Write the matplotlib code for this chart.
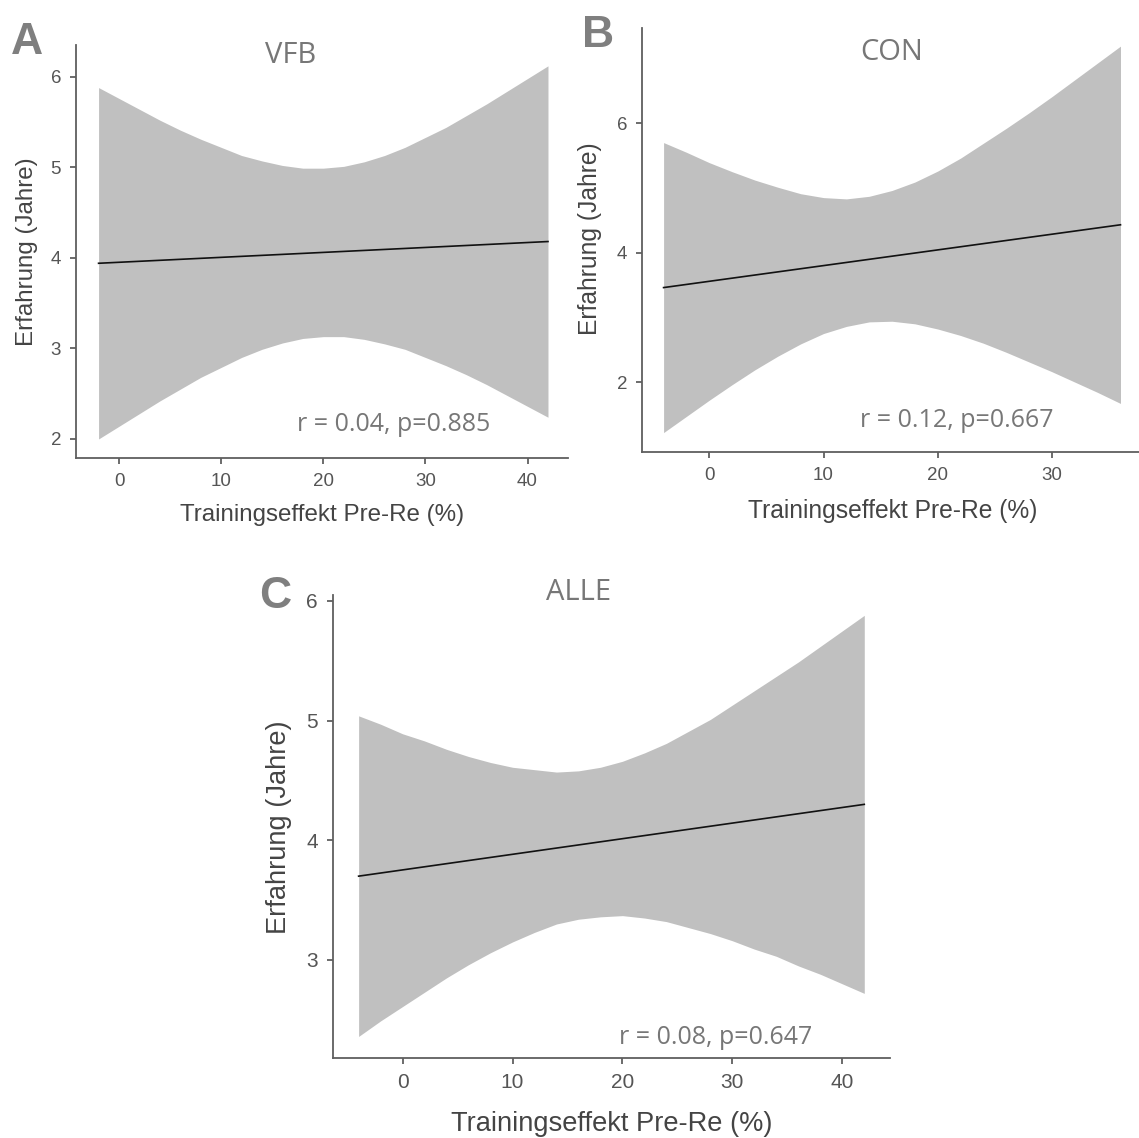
import matplotlib
matplotlib.use("Agg")
import matplotlib.pyplot as plt

W, H = 1139, 1138

# --- data ---
# Panel A: VFB (confidence band and fit line)
vfb_x = [-2, 0, 2, 4, 6, 8, 10, 12, 14, 16, 18, 20, 22, 24, 26, 28, 30, 32, 34, 36, 38, 40, 42]
vfb_upper = [5.88, 5.76, 5.64, 5.52, 5.41, 5.31, 5.22, 5.13, 5.07, 5.02, 4.99, 4.99,
             5.01, 5.06, 5.13, 5.22, 5.33, 5.44, 5.57, 5.70, 5.84, 5.98, 6.12]
vfb_lower = [2.00, 2.14, 2.28, 2.42, 2.55, 2.68, 2.79, 2.90, 2.99, 3.06, 3.11, 3.13,
             3.13, 3.10, 3.05, 2.99, 2.90, 2.81, 2.71, 2.60, 2.48, 2.36, 2.24]
vfb_fit_x = [-2, 42]
vfb_fit_y = [3.94, 4.18]

# Panel B: CON
con_x = [-4, -2, 0, 2, 4, 6, 8, 10, 12, 14, 16, 18, 20, 22, 24, 26, 28, 30, 32, 34, 36]
con_upper = [5.70, 5.55, 5.39, 5.25, 5.12, 5.01, 4.91, 4.85, 4.83, 4.87, 4.96,
             5.09, 5.26, 5.46, 5.69, 5.92, 6.16, 6.41, 6.67, 6.93, 7.19]
con_lower = [1.22, 1.47, 1.72, 1.96, 2.19, 2.40, 2.59, 2.75, 2.86, 2.93, 2.94,
             2.90, 2.82, 2.72, 2.60, 2.46, 2.31, 2.16, 2.00, 1.84, 1.67]
con_fit_x = [-4, 36]
con_fit_y = [3.46, 4.43]

# Panel C: ALLE
alle_x = [-4, -2, 0, 2, 4, 6, 8, 10, 12, 14, 16, 18, 20, 22, 24, 26, 28, 30, 32, 34, 36, 38, 40, 42]
alle_upper = [5.04, 4.97, 4.89, 4.83, 4.76, 4.70, 4.65, 4.61, 4.59, 4.57, 4.58, 4.61,
              4.66, 4.73, 4.81, 4.91, 5.01, 5.13, 5.25, 5.37, 5.49, 5.62, 5.75, 5.88]
alle_lower = [2.36, 2.49, 2.61, 2.73, 2.85, 2.96, 3.06, 3.15, 3.23, 3.30, 3.34, 3.36,
              3.37, 3.35, 3.32, 3.27, 3.22, 3.16, 3.09, 3.03, 2.95, 2.88, 2.80, 2.72]
alle_fit_x = [-4, 42]
alle_fit_y = [3.70, 4.30]

titles = ["VFB", "CON", "ALLE"]
letters = ["A", "B", "C"]
stats = ["r = 0.04, p=0.885", "r = 0.12, p=0.667", "r = 0.08, p=0.647"]
xlabel = "Trainingseffekt Pre-Re (%)"
ylabel = "Erfahrung (Jahre)"

BAND = "#c0c0c0"
GRAY_TXT = "#777777"
LETTER = "#7f7f7f"
AX_TXT = "#444444"
SPINE = "#5f5f5f"


def fx(px):
    return px / W


def fy(py):
    return 1 - py / H


fig = plt.figure(figsize=(W / 100, H / 100), dpi=100)


def panel(box, xlim, ylim, xticks, yticks, x, lo, hi, fit_x, fit_y, tick_fs):
    l, t, r, b = box
    ax = fig.add_axes([fx(l), fy(b), (r - l) / W, (b - t) / H])
    ax.fill_between(x, lo, hi, color=BAND, lw=0)
    ax.plot(fit_x, fit_y, color="#111111", lw=1.2)
    ax.set_xlim(xlim)
    ax.set_ylim(ylim)
    ax.set_xticks(xticks)
    ax.set_yticks(yticks)
    for s in ["top", "right"]:
        ax.spines[s].set_visible(False)
    for s in ["left", "bottom"]:
        ax.spines[s].set_color(SPINE)
        ax.spines[s].set_linewidth(1.3)
    ax.tick_params(direction="out", length=4.3, width=1.1, color=AX_TXT,
                   labelcolor="#555555", labelsize=tick_fs, pad=6.5)
    for lab in ax.get_xticklabels() + ax.get_yticklabels():
        lab.set_fontfamily("Liberation Sans")
    return ax


axA = panel((76, 45, 568, 458), (-4.21, 43.96), (1.79, 6.35), [0, 10, 20, 30, 40],
            [2, 3, 4, 5, 6], vfb_x, vfb_lower, vfb_upper, vfb_fit_x, vfb_fit_y, 13.5)
axB = panel((642, 28, 1139, 452), (-5.89, 37.62), (0.92, 7.47), [0, 10, 20, 30],
            [2, 4, 6], con_x, con_lower, con_upper, con_fit_x, con_fit_y, 13.5)
axC = panel((333, 595, 890, 1058), (-6.33, 44.34), (2.18, 6.05), [0, 10, 20, 30, 40],
            [3, 4, 5, 6], alle_x, alle_lower, alle_upper, alle_fit_x, alle_fit_y, 15)

# text placement in pixels: letter/title/stat baselines, label centres
txt = [
    dict(letter=(27, 54), title=(291, 63), stat=(394, 431), xl=(322, 515), yl=(27, 252), fs=17.4),
    dict(letter=(598, 47), title=(892, 60), stat=(957, 427), xl=(893, 511), yl=(590, 239), fs=17.7),
    dict(letter=(275, 608), title=(579, 600), stat=(716, 1044), xl=(612, 1124), yl=(279, 827), fs=19.6),
]

for i, d in enumerate(txt):
    fig.text(fx(d["letter"][0]), fy(d["letter"][1]), letters[i], ha="center", va="baseline",
             fontsize=32, fontweight="bold", color=LETTER, family="Liberation Sans")
    fig.text(fx(d["title"][0]), fy(d["title"][1]), titles[i], ha="center", va="baseline",
             fontsize=21, color=GRAY_TXT, family="Open Sans")
    fig.text(fx(d["stat"][0]), fy(d["stat"][1]), stats[i], ha="center", va="baseline",
             fontsize=18, color=GRAY_TXT, family="Open Sans")
    fig.text(fx(d["xl"][0]), fy(d["xl"][1]), xlabel, ha="center", va="center",
             fontsize=d["fs"], color=AX_TXT, family="Liberation Sans")
    fig.text(fx(d["yl"][0]), fy(d["yl"][1]), ylabel, ha="center", va="center", rotation=90,
             fontsize=d["fs"], color=AX_TXT, family="Liberation Sans")

fig.savefig("out.png", dpi=100, facecolor="white")
